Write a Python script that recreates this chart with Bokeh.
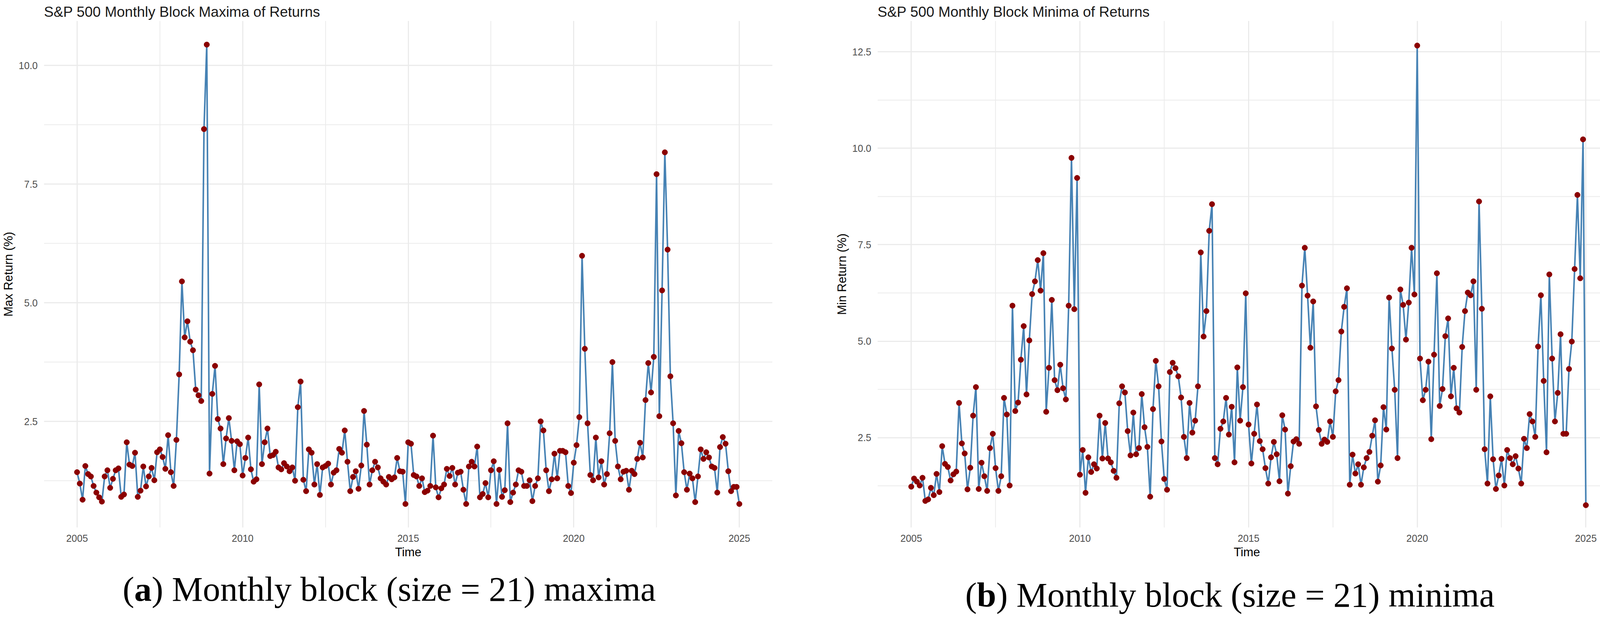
from bokeh.plotting import figure
from bokeh.models import (Range1d, FixedTicker, NumeralTickFormatter,
                          ColumnDataSource, Div)
from bokeh.layouts import row, column
from bokeh.embed import file_html
from bokeh.resources import INLINE

# ---------------- data ----------------
START_YEAR = 2005
BLOCKS_PER_YEAR = 12  # 21-trading-day blocks, ~12 per year

max_returns = [
    1.43, 1.19, 0.85, 1.56, 1.39, 1.34, 1.14, 1.00, 0.90, 0.81, 1.34, 1.47,
    1.10, 1.29, 1.47, 1.51, 0.91, 0.96, 2.06, 1.59, 1.56, 1.84, 0.91, 1.04,
    1.55, 1.13, 1.34, 1.52, 1.26, 1.85, 1.91, 1.75, 1.50, 2.21, 1.43, 1.14,
    2.11, 3.49, 5.45, 4.27, 4.61, 4.18, 4.00, 3.17, 3.05, 2.93, 8.66, 10.44,
    1.40, 3.08, 3.67, 2.55, 2.35, 1.60, 2.14, 2.57, 2.09, 1.47, 2.08, 2.02,
    1.36, 1.73, 2.16, 1.49, 1.23, 1.28, 3.28, 1.60, 2.06, 2.35, 1.77, 1.79,
    1.86, 1.53, 1.49, 1.62, 1.55, 1.45, 1.53, 1.25, 2.80, 3.34, 1.27, 1.03,
    1.91, 1.84, 1.17, 1.60, 0.95, 1.53, 1.56, 1.61, 1.17, 1.42, 1.47, 1.92,
    1.84, 2.31, 1.65, 1.03, 1.33, 1.45, 1.08, 1.57, 2.72, 2.01, 1.17, 1.47,
    1.65, 1.53, 1.30, 1.23, 1.17, 1.33, 1.28, 1.32, 1.73, 1.45, 1.44, 0.76,
    2.06, 2.03, 1.37, 1.34, 1.14, 1.30, 1.01, 1.04, 1.14, 2.20, 1.11, 0.90,
    1.09, 1.17, 1.50, 1.35, 1.52, 1.17, 1.42, 1.44, 1.06, 0.76, 1.55, 1.65,
    1.55, 1.97, 0.90, 0.97, 1.20, 0.90, 1.47, 1.66, 0.76, 1.48, 0.91, 1.05,
    2.46, 0.80, 1.00, 1.17, 1.47, 1.44, 1.14, 1.14, 1.26, 0.82, 1.14, 1.30,
    2.50, 2.31, 1.47, 1.03, 1.28, 1.82, 1.30, 1.88, 1.88, 1.85, 1.14, 0.99,
    1.63, 2.00, 2.59, 5.99, 4.03, 2.46, 1.37, 1.26, 2.16, 1.32, 1.66, 1.17,
    1.39, 2.25, 3.75, 2.09, 1.55, 1.28, 1.44, 1.46, 1.06, 1.46, 1.39, 1.71,
    2.05, 1.74, 2.95, 3.73, 3.11, 3.86, 7.71, 2.61, 5.26, 8.17, 6.12, 3.45,
    2.46, 0.94, 2.30, 2.04, 1.43, 1.06, 1.40, 1.30, 0.80, 1.34, 1.91, 1.71,
    1.85, 1.74, 1.55, 1.52, 1.00, 1.96, 2.17, 2.03, 1.45, 1.03, 1.12, 1.12,
    0.76,
]

min_returns = [
    1.23, 1.44, 1.36, 1.26, 1.46, 0.86, 0.90, 1.20, 1.01, 1.56, 1.09, 2.28,
    1.82, 1.74, 1.39, 1.55, 1.62, 3.40, 2.35, 2.09, 1.16, 1.72, 3.07, 3.81,
    1.17, 1.85, 1.50, 1.12, 2.23, 2.60, 1.71, 1.12, 1.50, 3.53, 3.10, 1.26,
    5.92, 3.19, 3.41, 4.52, 5.39, 3.62, 5.02, 6.22, 6.55, 7.10, 6.31, 7.28,
    3.17, 4.31, 6.07, 3.99, 3.73, 4.39, 3.78, 3.49, 5.92, 9.75, 5.83, 9.23,
    1.54, 2.18, 1.07, 1.99, 1.61, 1.81, 1.70, 3.07, 1.96, 2.88, 1.96, 1.86,
    1.64, 1.46, 3.39, 3.83, 3.67, 2.67, 2.04, 3.15, 2.07, 2.23, 3.63, 2.77,
    2.26, 0.97, 3.24, 4.49, 3.83, 2.40, 1.43, 1.15, 4.20, 4.44, 4.30, 4.09,
    3.54, 2.52, 1.97, 3.40, 2.63, 2.94, 3.83, 7.30, 5.12, 5.78, 7.86, 8.55,
    1.97, 1.81, 2.73, 2.92, 3.53, 2.58, 3.30, 1.86, 4.32, 2.94, 3.81, 6.24,
    2.84, 1.83, 2.60, 3.36, 2.41, 2.20, 1.71, 1.31, 1.99, 2.39, 2.07, 1.37,
    3.08, 2.71, 1.05, 1.76, 2.40, 2.46, 2.34, 6.44, 7.42, 6.18, 4.83, 6.03,
    3.31, 2.70, 2.34, 2.45, 2.39, 2.92, 2.52, 3.70, 3.99, 5.25, 5.89, 6.37,
    1.28, 2.06, 1.57, 1.81, 1.28, 1.73, 1.97, 2.13, 2.55, 2.95, 1.36, 1.78,
    3.29, 2.71, 6.13, 4.81, 3.74, 1.97, 6.34, 5.94, 5.04, 6.00, 7.42, 6.21,
    12.66, 4.55, 3.47, 3.74, 4.47, 2.46, 4.65, 6.76, 3.32, 3.76, 5.13, 5.59,
    3.57, 4.31, 3.26, 3.15, 4.85, 5.78, 6.26, 6.19, 6.55, 3.74, 8.62, 5.84,
    2.20, 1.31, 3.57, 1.94, 1.17, 1.52, 1.95, 1.26, 2.18, 1.97, 1.81, 2.02,
    1.70, 1.31, 2.47, 2.23, 3.11, 2.92, 2.52, 4.86, 6.19, 3.97, 2.12, 6.73,
    4.55, 2.92, 3.66, 5.18, 2.60, 2.60, 4.28, 4.99, 6.87, 8.79, 6.63, 10.23,
    0.75,
]

x_ticks = [2005, 2010, 2015, 2020, 2025]
x_minor_ticks = [2007.5, 2012.5, 2017.5, 2022.5]
max_y_ticks = [2.5, 5.0, 7.5, 10.0]
max_y_minor = [1.25, 3.75, 6.25, 8.75]
min_y_ticks = [2.5, 5.0, 7.5, 10.0, 12.5]
min_y_minor = [1.25, 3.75, 6.25, 8.75, 11.25]

title_max = "S&P 500 Monthly Block Maxima of Returns"
title_min = "S&P 500 Monthly Block Minima of Returns"
ylab_max = "Max Return (%)"
ylab_min = "Min Return (%)"
xlab = "Time"
caption_letter_max = "a"
caption_letter_min = "b"
caption_rest_max = "Monthly block (size = 21) maxima"
caption_rest_min = "Monthly block (size = 21) minima"

LINE_COLOR = "#4682B4"
POINT_COLOR = "#8B0000"
GRID_COLOR = "#ebebeb"
SANS = "Liberation Sans"
SERIF = "Liberation Serif"


def make_panel(title, ylab, vals, x_end, y_lo, y_hi, y_major, y_minor,
               w, h, bl, br, bt, bb):
    years = [START_YEAR + i / BLOCKS_PER_YEAR for i in range(len(vals))]
    src = ColumnDataSource(dict(x=years, y=vals))
    p = figure(width=w, height=h,
               min_border_left=bl, min_border_right=br,
               min_border_top=bt, min_border_bottom=bb,
               x_range=Range1d(2004, x_end), y_range=Range1d(y_lo, y_hi),
               toolbar_location=None, output_backend="svg", title=title)
    p.title.text_font = SANS
    p.title.text_font_size = "37px"
    p.title.text_font_style = "normal"
    p.title.text_color = "#1a1a1a"
    p.title.standoff = 6
    p.outline_line_color = None
    p.background_fill_color = "white"
    p.border_fill_color = "white"

    p.xaxis.ticker = FixedTicker(ticks=x_ticks, minor_ticks=x_minor_ticks)
    p.yaxis.ticker = FixedTicker(ticks=y_major, minor_ticks=y_minor)
    p.yaxis.formatter = NumeralTickFormatter(format="0.0")

    for ax in (p.xaxis, p.yaxis):
        ax.major_tick_line_color = None
        ax.minor_tick_line_color = None
        ax.axis_line_color = None
        ax.major_label_text_font = SANS
        ax.major_label_text_font_size = "25px"
        ax.major_label_text_color = "#4d4d4d"
        ax.axis_label_text_font = SANS
        ax.axis_label_text_font_size = "31px"
        ax.axis_label_text_font_style = "normal"
        ax.axis_label_text_color = "#000000"
    p.xaxis.axis_label = xlab
    p.yaxis.axis_label = ylab
    p.xaxis.major_label_standoff = 12
    p.yaxis.major_label_standoff = 10
    p.xaxis.axis_label_standoff = 6
    p.yaxis.axis_label_standoff = 6

    for g in (p.xgrid, p.ygrid):
        g.grid_line_color = GRID_COLOR
        g.grid_line_width = 3
        g.minor_grid_line_color = GRID_COLOR
        g.minor_grid_line_width = 2

    p.line("x", "y", source=src, line_color=LINE_COLOR, line_width=4)
    p.scatter("x", "y", source=src, size=14, fill_color=POINT_COLOR,
              line_color=POINT_COLOR)
    return p


def make_caption(w, h, left, top, letter, rest):
    html = (
        f'<div style="margin-left:{left}px; padding-top:{top}px; '
        f'font-family:\'{SERIF}\', \'Times New Roman\', serif; '
        f'font-size:89px; line-height:89px; white-space:nowrap; '
        f'color:#000000;">(<b>{letter}</b>) {rest}</div>'
    )
    return Div(text=html, width=w, height=h, margin=(0, 0, 0, 0))


p1 = make_panel(title_max, ylab_max, max_returns, 2026.0, 0.263, 10.94,
                max_y_ticks, max_y_minor, 2100, 1462, 100, 123, 53, 111)
p2 = make_panel(title_min, ylab_min, min_returns, 2025.9, 0.17, 13.3,
                min_y_ticks, min_y_minor, 2040, 1462, 146, 3, 50, 94)

c1 = make_caption(2100, 112, 314, 3, caption_letter_max, caption_rest_max)
c2 = make_caption(2040, 112, 371, 18, caption_letter_min, caption_rest_min)

layout = column(row(p1, p2, spacing=0), row(c1, c2, spacing=0), spacing=0)

open("out.html", "w").write(file_html(layout, INLINE))
